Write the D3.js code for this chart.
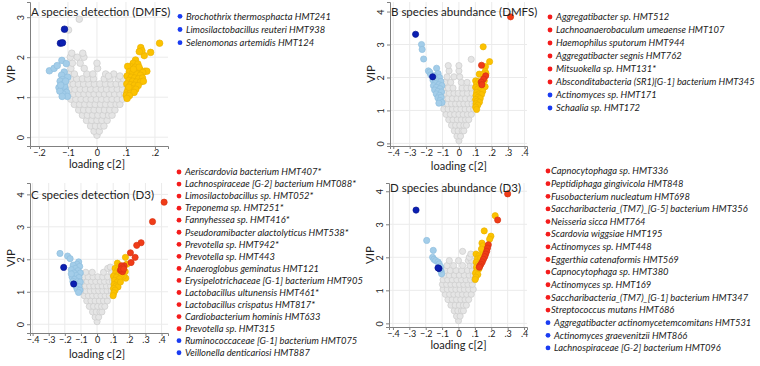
<!DOCTYPE html>
<html>
<head>
<meta charset="utf-8">
<script src="https://cdn.jsdelivr.net/npm/d3@7"></script>
<style>
  body { margin: 0; background: #fff; }
  text { font-family: Lato, "Open Sans", sans-serif; fill: #222; }
</style>
</head>
<body>
<svg id="chart" width="760" height="366"></svg>
<script>
// ---- data: loading c[2] (x) and VIP (y) ----

// grey points kept as rows: [VIP, [loadings...]]
var aGreyRows = [
  [0.05, [0]], [0.15, [-0.01, 0.008]], [0.28, [-0.022, -0.005, 0.012, 0.024]],
  [0.42, [-0.036, -0.018, 0, 0.017, 0.035]],
  [0.55, [-0.05, -0.033, -0.015, 0.003, 0.021, 0.04, 0.052]],
  [0.68, [-0.063, -0.046, -0.028, -0.01, 0.008, 0.026, 0.044, 0.062]],
  [0.82, [-0.078, -0.06, -0.042, -0.024, -0.006, 0.012, 0.03, 0.048, 0.066, 0.079]],
  [0.95, [-0.09, -0.073, -0.055, -0.037, -0.02, -0.002, 0.016, 0.034, 0.052, 0.07, 0.088]],
  [1.08, [-0.097, -0.08, -0.063, -0.045, -0.027, -0.01, 0.008, 0.026, 0.043, 0.061, 0.079, 0.095]],
  [1.2, [-0.094, -0.076, -0.058, -0.04, -0.022, -0.003, 0.015, 0.033, 0.052, 0.07, 0.088]],
  [1.33, [-0.098, -0.082, -0.064, -0.046, -0.028, -0.009, 0.01, 0.029, 0.048, 0.066, 0.085]],
  [1.46, [-0.091, -0.07, -0.05, -0.032, -0.012, 0.025, 0.045, 0.073, 0.092]],
  [1.58, [-0.097, -0.078, -0.035, -0.014, 0.03, 0.058]],
  [1.72, [-0.09, -0.044, 0.002]],
  [1.85, [-0.085, -0.058, 0.0]],
  [2.0, [-0.092, -0.068, -0.045]],
  [2.1, [-0.087, -0.049]],
  [1.53, [0.04, 0.079]],
  [2.68, [-0.098]], [2.95, [-0.061]]
];
var aLightBlue = [[-0.164,1.66],[-0.148,1.72],[-0.137,1.79],[-0.121,1.92],[-0.106,1.84],[-0.113,1.63],
  [-0.122,1.55],[-0.101,1.50],[-0.119,1.44],[-0.127,1.40],[-0.115,1.33],[-0.131,1.24],[-0.110,1.22],
  [-0.123,1.18],[-0.105,1.12],[-0.117,1.08],[-0.128,1.15],[-0.102,1.02],[-0.112,1.28],[-0.120,1.02],
  [-0.108,1.40],[-0.125,1.30]];
var aYellow = [[0.216,2.35],[0.185,2.12],[0.163,2.04],[0.151,2.24],[0.155,2.16],[0.146,2.14],[0.133,1.93],
  [0.125,1.85],[0.141,1.83],[0.118,1.76],[0.106,1.77],[0.132,1.75],[0.148,1.69],[0.165,1.65],[0.172,1.65],
  [0.158,1.62],[0.112,1.64],[0.124,1.62],[0.138,1.58],[0.150,1.55],[0.104,1.53],[0.118,1.50],[0.130,1.48],
  [0.143,1.46],[0.157,1.48],[0.110,1.42],[0.123,1.40],[0.136,1.38],[0.150,1.38],[0.103,1.33],[0.116,1.31],
  [0.129,1.30],[0.142,1.29],[0.108,1.22],[0.121,1.21],[0.134,1.20],[0.104,1.13],[0.116,1.12],[0.128,1.12],
  [0.101,1.05],[0.112,1.04],[0.104,0.97],[0.160,1.40],[0.145,1.75],[0.126,1.70],[0.110,1.25]];
var aRed = [];
var aDarkBlue = [[-0.112,2.70],[-0.126,2.35],[-0.119,2.36]];

var bGreyRows = [
  [0.08, [0]], [0.22, [-0.012, 0.01]], [0.38, [-0.028, -0.005, 0.02, 0.03]],
  [0.55, [-0.045, -0.02, 0.005, 0.03, 0.046]],
  [0.72, [-0.062, -0.036, -0.01, 0.015, 0.04, 0.06]],
  [0.88, [-0.078, -0.052, -0.026, 0, 0.026, 0.052, 0.076]],
  [1.04, [-0.092, -0.066, -0.04, -0.014, 0.012, 0.038, 0.064, 0.09]],
  [1.2, [-0.095, -0.07, -0.045, -0.02, 0.005, 0.03, 0.055, 0.08, 0.098]],
  [1.36, [-0.092, -0.066, -0.04, -0.012, 0.015, 0.04, 0.068, 0.092]],
  [1.52, [-0.085, -0.058, -0.03, -0.004, 0.024, 0.052, 0.08]],
  [1.68, [-0.092, -0.064, -0.036, 0.02, 0.048, 0.075]],
  [1.85, [-0.085, -0.05, 0.015, 0.05]],
  [2.02, [-0.072, -0.03, 0.005]],
  [2.2, [-0.06, 0.0]], [2.36, [-0.065, 0.0]], [2.55, [0.075]]
];
var bLightBlue = [[-0.228,3.0],[-0.224,2.85],[-0.215,2.56],[-0.186,2.20],[-0.178,2.16],[-0.172,2.08],
  [-0.136,2.28],[-0.127,2.12],[-0.150,2.05],[-0.140,1.98],[-0.118,2.0],[-0.158,1.92],[-0.132,1.90],
  [-0.110,1.88],[-0.145,1.82],[-0.122,1.78],[-0.155,1.75],[-0.104,1.75],[-0.138,1.70],[-0.115,1.66],
  [-0.148,1.62],[-0.128,1.58],[-0.106,1.56],[-0.138,1.50],[-0.118,1.46],[-0.128,1.38],[-0.108,1.40],
  [-0.115,1.30],[-0.103,1.24],[-0.122,1.22]];
var bYellow = [[0.148,2.93],[0.187,2.48],[0.162,2.33],[0.160,2.18],[0.165,2.12],[0.124,2.10],[0.150,2.10],
  [0.102,1.90],[0.118,1.88],[0.155,1.90],[0.108,1.80],[0.125,1.78],[0.150,1.70],[0.160,1.72],[0.102,1.70],
  [0.115,1.65],[0.132,1.62],[0.145,1.58],[0.108,1.55],[0.122,1.50],[0.138,1.48],[0.104,1.45],[0.118,1.40],
  [0.130,1.36],[0.102,1.33],[0.112,1.28],[0.125,1.25],[0.104,1.20],[0.115,1.16],[0.102,1.10],[0.108,1.03]];
var bRed = [[0.315,3.84],[0.138,2.37],[0.163,2.05],[0.150,1.95],[0.136,1.86],[0.140,1.78]];
var bDarkBlue = [[-0.264,3.31],[-0.160,2.02]];

var cGreyRows = [
  [0.08, [0]], [0.22, [-0.012, 0.01]], [0.38, [-0.028, -0.005, 0.018, 0.03]],
  [0.55, [-0.048, -0.022, 0.004, 0.028, 0.048]],
  [0.72, [-0.064, -0.038, -0.012, 0.014, 0.04, 0.064]],
  [0.88, [-0.08, -0.054, -0.028, -0.002, 0.024, 0.05, 0.076]],
  [1.03, [-0.094, -0.068, -0.042, -0.016, 0.01, 0.036, 0.062, 0.088]],
  [1.18, [-0.098, -0.072, -0.046, -0.02, 0.006, 0.032, 0.058, 0.084]],
  [1.32, [-0.09, -0.062, -0.035, -0.008, 0.02, 0.046, 0.074, 0.096]],
  [1.46, [-0.085, -0.055, -0.025, 0.005, 0.035, 0.065]],
  [1.6, [-0.07, -0.03, 0.04, 0.09]],
  [1.72, [0.066]], [1.76, [0.082]]
];
var cLightBlue = [[-0.230,2.18],[-0.183,2.10],[-0.167,2.02],[-0.114,1.92],[-0.125,1.85],[-0.148,1.82],
  [-0.108,1.78],[-0.135,1.72],[-0.160,1.68],[-0.118,1.65],[-0.143,1.58],[-0.104,1.58],[-0.128,1.50],
  [-0.155,1.45],[-0.112,1.44],[-0.140,1.38],[-0.120,1.32],[-0.104,1.30],[-0.132,1.18],[-0.112,1.16],
  [-0.124,1.08],[-0.106,1.05],[-0.115,0.98],[-0.150,1.32],[-0.160,1.55]];
var cYellow = [[0.126,1.88],[0.176,2.06],[0.185,1.85],[0.140,1.80],[0.112,1.72],[0.130,1.68],[0.175,1.62],
  [0.115,1.58],[0.135,1.55],[0.178,1.42],[0.163,1.48],[0.150,1.50],[0.102,1.48],[0.120,1.45],[0.138,1.40],
  [0.108,1.35],[0.125,1.30],[0.105,1.22],[0.118,1.18],[0.130,1.15],[0.102,1.10],[0.112,1.05],[0.104,0.97],
  [0.100,0.88],[0.145,1.30]];
var cRed = [[0.416,3.76],[0.344,3.16],[0.273,2.51],[0.246,2.43],[0.207,2.20],[0.236,2.06],[0.211,1.90],
  [0.168,1.80],[0.152,1.80],[0.160,1.74],[0.145,1.66],[0.158,1.62],[0.150,1.70],[0.165,1.70]];
var cDarkBlue = [[-0.207,1.75],[-0.145,1.24]];

var dGreyRows = [
  [0.08, [0]], [0.22, [-0.012, 0.01]], [0.38, [-0.026, -0.004, 0.018, 0.03]],
  [0.55, [-0.046, -0.02, 0.005, 0.03, 0.048]],
  [0.72, [-0.064, -0.038, -0.012, 0.014, 0.04, 0.062]],
  [0.88, [-0.08, -0.054, -0.028, -0.002, 0.024, 0.05, 0.078]],
  [1.03, [-0.094, -0.068, -0.042, -0.016, 0.01, 0.036, 0.062, 0.09]],
  [1.18, [-0.098, -0.072, -0.046, -0.02, 0.006, 0.032, 0.058, 0.084]],
  [1.32, [-0.094, -0.066, -0.038, -0.01, 0.018, 0.046, 0.074, 0.098]],
  [1.46, [-0.085, -0.055, -0.025, 0.005, 0.035, 0.065, 0.09]],
  [1.6, [-0.082, -0.05, -0.015, 0.02, 0.055, 0.085]],
  [1.75, [-0.07, -0.03, 0.025, 0.07, 0.095]],
  [1.9, [-0.056, 0.0, 0.06, 0.08]],
  [2.0, [0.066]], [2.1, [0.075]], [2.18, [0.025]]
];
var dLightBlue = [[-0.194,2.51],[-0.154,2.21],[-0.158,2.0],[-0.150,1.94],[-0.140,1.90],[-0.125,1.86],
  [-0.118,1.80],[-0.110,1.72],[-0.106,1.58],[-0.103,1.50],[-0.112,1.62]];
var dYellow = [[0.224,3.26],[0.157,2.80],[0.198,2.64],[0.190,2.55],[0.143,2.43],[0.150,2.35],[0.160,2.22],
  [0.107,2.10],[0.125,2.05],[0.115,1.95],[0.135,1.98],[0.108,1.85],[0.120,1.78],[0.110,1.70],[0.125,1.65],
  [0.112,1.60],[0.104,1.52],[0.118,1.48],[0.106,1.40],[0.102,1.33],[0.150,2.15],[0.140,2.25]];
var dRed = [[0.300,3.92],[0.239,3.13],[0.182,2.38],[0.177,2.28],[0.172,2.18],[0.166,2.10],[0.160,2.02],
  [0.152,1.94],[0.145,1.86],[0.137,1.79],[0.130,1.74],[0.127,1.70]];
var dDarkBlue = [[-0.259,3.43],[-0.119,1.66],[-0.125,1.68]];

// ---- legends: [name, colour group] ----
var aLegend = [["Brochothrix thermosphacta HMT241","b"],["Limosilactobacillus reuteri HMT938","b"],
  ["Selenomonas artemidis HMT124","b"]];
var bLegend = [["Aggregatibacter sp. HMT512","r"],["Lachnoanaerobaculum umeaense HMT107","r"],
  ["Haemophilus sputorum HMT944","r"],["Aggregatibacter segnis HMT762","r"],["Mitsuokella sp. HMT131*","r"],
  ["Absconditabacteria (SR1)[G-1] bacterium HMT345","r"],["Actinomyces sp. HMT171","b"],["Schaalia sp. HMT172","b"]];
var cLegend = [["Aeriscardovia bacterium HMT407*","r"],["Lachnospiraceae [G-2] bacterium HMT088*","r"],
  ["Limosilactobacillus sp. HMT052*","r"],["Treponema sp. HMT251*","r"],["Fannyhessea  sp. HMT416*","r"],
  ["Pseudoramibacter alactolyticus HMT538*","r"],["Prevotella sp. HMT942*","r"],["Prevotella sp. HMT443","r"],
  ["Anaeroglobus geminatus HMT121","r"],["Erysipelotrichaceae [G-1] bacterium HMT905","r"],
  ["Lactobacillus ultunensis HMT461*","r"],["Lactobacillus crispatus HMT817*","r"],
  ["Cardiobacterium hominis HMT633","r"],["Prevotella sp. HMT315","r"],
  ["Ruminococcaceae [G-1] bacterium HMT075","b"],["Veillonella denticariosi HMT887","b"]];
var dLegend = [["Capnocytophaga sp. HMT336","r"],["Peptidiphaga gingivicola HMT848","r"],
  ["Fusobacterium nucleatum HMT698","r"],["Saccharibacteria_(TM7)_[G-5] bacterium HMT356","r"],
  ["Neisseria sicca HMT764","r"],["Scardovia wiggsiae HMT195","r"],["Actinomyces sp. HMT448","r"],
  ["Eggerthia catenaformis HMT569","r"],["Capnocytophaga sp. HMT380","r"],["Actinomyces sp. HMT169","r"],
  ["Saccharibacteria_(TM7)_[G-1] bacterium HMT347","r"],["Streptococcus mutans HMT686","r"],
  ["Aggregatibacter actinomycetemcomitans HMT531","b"],["Actinomyces graevenitzii HMT866","b"],
  ["Lachnospiraceae [G-2] bacterium HMT096","b"]];

var xTicksNarrow = [-0.2, -0.1, 0, 0.1, 0.2];
var xTicksWide = [-0.4, -0.3, -0.2, -0.1, 0, 0.1, 0.2, 0.3, 0.4];
var yTicks3 = [0, 1, 2, 3];
var yTicks4 = [0, 1, 2, 3, 4];

// ---- drawing ----
var svg = d3.select("#chart");
svg.append("rect").attr("width", 760).attr("height", 366).attr("fill", "#fff");

var colours = {
  grey: ["#e5e5e5", "#cbcbcb"],
  lightBlue: ["#a3cde9", "#8fbede"],
  yellow: ["#fcc200", "#ebb300"],
  red: ["#f03c18", "#d93212"],
  darkBlue: ["#0b1fb2", "#071690"]
};
var legendColour = { r: "#f41c1c", b: "#1a3cf2" };

function unrow(rows) {
  return rows.flatMap(function(r) { return r[1].map(function(x) { return [x, r[0]]; }); });
}

function fmtTick(d) {
  if (d === 0) return "0";
  return d3.format(".1f")(d).replace("0.", ".");
}

function drawPanel(p) {
  var g = svg.append("g");
  var x = d3.scaleLinear().domain(p.xd).range([p.left, p.right]);
  var y = d3.scaleLinear().domain(p.yd).range([p.bottom, p.top]);

  // grid
  g.selectAll("line.vg").data(p.xt).enter().append("line")
    .attr("x1", x).attr("x2", x).attr("y1", p.bottom).attr("y2", p.top)
    .attr("stroke", "#ebebeb").attr("stroke-width", 1);
  g.selectAll("line.hg").data(p.yt).enter().append("line")
    .attr("x1", p.left).attr("x2", p.right).attr("y1", y).attr("y2", y)
    .attr("stroke", "#ebebeb").attr("stroke-width", 1);

  // axes
  var xAxis = g.append("g").attr("transform", "translate(0," + p.bottom + ")")
    .call(d3.axisBottom(x).tickValues(p.xt).tickFormat(fmtTick).tickSize(3).tickPadding(1));
  var yAxis = g.append("g").attr("transform", "translate(" + p.left + ",0)")
    .call(d3.axisLeft(y).tickValues(p.yt).tickFormat(d3.format("d")).tickSize(3).tickPadding(2));
  [xAxis, yAxis].forEach(function(a) {
    a.select(".domain").attr("stroke", "#808080");
    a.selectAll(".tick line").attr("stroke", "#808080");
    a.selectAll("text").style("font-size", "9px").attr("fill", "#222");
  });
  yAxis.selectAll(".tick text")
    .attr("x", null).attr("dy", null)
    .attr("text-anchor", "middle")
    .attr("transform", "translate(-6,0) rotate(-90)")
    .attr("y", 0);

  // axis titles
  g.append("text").attr("x", x(0)).attr("y", p.xLabelY).attr("text-anchor", "middle")
    .style("font-size", "11px").text("loading c[2]");
  g.append("text").attr("transform", "translate(" + (p.left - 15) + "," + ((p.top + p.bottom) / 2) + ") rotate(-90)")
    .attr("text-anchor", "middle").style("font-size", "11.5px").text("VIP");

  // points
  var layers = [
    [unrow(p.grey), colours.grey], [p.lightBlue, colours.lightBlue], [p.yellow, colours.yellow],
    [p.red, colours.red], [p.darkBlue, colours.darkBlue]
  ];
  layers.forEach(function(l) {
    g.append("g").selectAll("circle").data(l[0]).enter().append("circle")
      .attr("cx", function(d) { return x(d[0]); })
      .attr("cy", function(d) { return y(d[1]); })
      .attr("r", p.r)
      .attr("fill", l[1][0]).attr("stroke", l[1][1]).attr("stroke-width", 0.7);
  });

  // title
  g.append("text").attr("x", p.left + 1).attr("y", p.titleY)
    .style("font-size", "11.5px").text(p.title);

  // legend
  var lg = g.append("g");
  if (p.clip) {
    svg.append("clipPath").attr("id", p.clip).append("rect")
      .attr("x", p.legX - 5).attr("y", 0).attr("width", 380 - p.legX + 5).attr("height", 366);
    lg.attr("clip-path", "url(#" + p.clip + ")");
  }
  var items = lg.selectAll("g").data(p.legend).enter().append("g")
    .attr("transform", function(d, i) { return "translate(" + p.legX + "," + (p.legY + i * p.legDy) + ")"; });
  items.append("circle").attr("r", 2.4).attr("fill", function(d) { return legendColour[d[1]]; });
  items.append("text")
    .attr("x", function(d) { return (p.tightRed && d[1] === "r") ? 3 : 6; })
    .attr("dy", "0.35em")
    .style("font-size", "9.4px").style("font-style", "italic")
    .text(function(d) { return d[0]; });
}

var panels = [
  { title: "A species detection (DMFS)", left: 30, right: 168, top: 2, bottom: 146,
    xd: [-0.231, 0.245], yd: [-0.22, 3.38], xt: xTicksNarrow, yt: yTicks3, r: 3.3,
    grey: aGreyRows, lightBlue: aLightBlue, yellow: aYellow, red: aRed, darkBlue: aDarkBlue,
    titleY: 16, xLabelY: 168, legend: aLegend, legX: 180, legY: 16.3, legDy: 13.2 },
  { title: "B species abundance (DMFS)", left: 390, right: 527, top: 2, bottom: 146,
    xd: [-0.42, 0.415], yd: [-0.08, 4.29], xt: xTicksWide, yt: yTicks4, r: 3.1,
    grey: bGreyRows, lightBlue: bLightBlue, yellow: bYellow, red: bRed, darkBlue: bDarkBlue,
    titleY: 16, xLabelY: 169.5, legend: bLegend, legX: 550, legY: 17, legDy: 13 },
  { title: "C species detection (D3)", left: 30, right: 168, top: 183, bottom: 333,
    xd: [-0.416, 0.44], yd: [-0.27, 4.35], xt: xTicksWide, yt: yTicks4, r: 3.1,
    grey: cGreyRows, lightBlue: cLightBlue, yellow: cYellow, red: cRed, darkBlue: cDarkBlue,
    titleY: 199, xLabelY: 357.5, legend: cLegend, legX: 179, legY: 172, legDy: 12.05, clip: "clipC" },
  { title: "D species abundance (D3)", left: 389, right: 527, top: 183, bottom: 327,
    xd: [-0.424, 0.418], yd: [-0.11, 4.25], xt: xTicksWide, yt: yTicks4, r: 3.1,
    grey: dGreyRows, lightBlue: dLightBlue, yellow: dYellow, red: dRed, darkBlue: dDarkBlue,
    titleY: 192, xLabelY: 349, legend: dLegend, legX: 548, legY: 171, legDy: 12.64, tightRed: true }
];
panels.forEach(drawPanel);
</script>
</body>
</html>
